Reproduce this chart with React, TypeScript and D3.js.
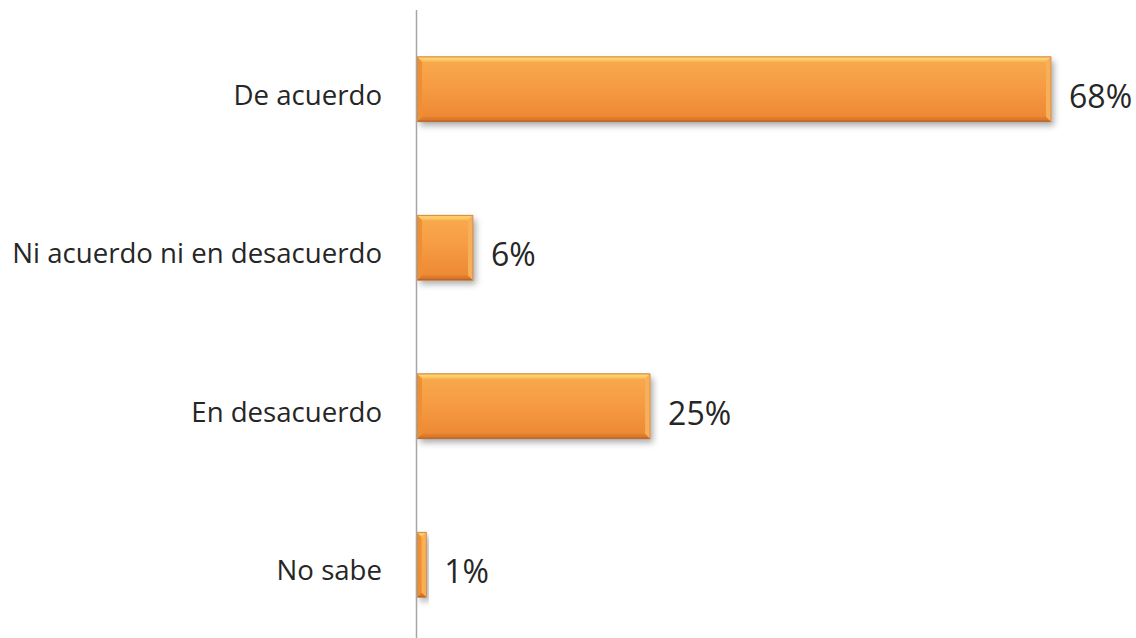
import React from "react";
import * as d3 from "d3";

const categories = ["De acuerdo", "Ni acuerdo ni en desacuerdo", "En desacuerdo", "No sabe"];
const values = [0.68, 0.06, 0.25, 0.01];
const valueLabels = ["68%", "6%", "25%", "1%"];

const W = 1136;
const H = 638;
const axisX = 416.5;
const FONT = "'Open Sans', Lato, sans-serif";

export default function App() {
  const y = d3
    .scaleBand<string>()
    .domain(categories)
    .range([10, 644])
    .paddingInner(0.59)
    .paddingOuter(0.295);
  const x = d3.scaleLinear().domain([0, 1]).range([417, 417 + 932.4]);
  const b = 5;

  return (
    <svg width={W} height={H} style={{ position: "absolute", left: 0, top: 0, background: "#fff" }}>
      <defs>
        <linearGradient id="mainG" x1="0" y1="0" x2="0" y2="1">
          <stop offset="0" stopColor="#f8aa50" />
          <stop offset="0.45" stopColor="#f69c44" />
          <stop offset="1" stopColor="#ec8632" />
        </linearGradient>
        <linearGradient id="topG" x1="0" y1="0" x2="0" y2="1">
          <stop offset="0" stopColor="#f0a048" />
          <stop offset="0.3" stopColor="#fdd66c" />
          <stop offset="1" stopColor="#f9b858" />
        </linearGradient>
        <linearGradient id="botG" x1="0" y1="0" x2="0" y2="1">
          <stop offset="0" stopColor="#e5802e" />
          <stop offset="0.6" stopColor="#da772a" />
          <stop offset="1" stopColor="#a55c2c" />
        </linearGradient>
        <filter id="shadow" x="-20%" y="-20%" width="140%" height="160%">
          <feDropShadow dx="3" dy="4" stdDeviation="3" floodColor="#000" floodOpacity="0.32" />
        </filter>
      </defs>
      {categories.map((c, i) => {
        const y0 = y(c)!;
        const h = y.bandwidth();
        const x0 = x(0);
        const x1 = x(values[i]);
        const w = x1 - x0;
        const bb = Math.min(b, w / 2);
        const cy = y0 + h / 2;
        return (
          <g key={c}>
            <g filter="url(#shadow)">
              <rect x={x0} y={y0} width={w} height={h} fill="url(#mainG)" />
            </g>
            <polygon
              points={`${x0},${y0} ${x1},${y0} ${x1 - bb},${y0 + b} ${x0 + bb},${y0 + b}`}
              fill="url(#topG)"
            />
            <polygon
              points={`${x0},${y0 + h} ${x1},${y0 + h} ${x1 - bb},${y0 + h - b} ${x0 + bb},${y0 + h - b}`}
              fill="url(#botG)"
            />
            <polygon
              points={`${x0},${y0} ${x0 + bb},${y0 + b} ${x0 + bb},${y0 + h - b} ${x0},${y0 + h}`}
              fill="#ee8f34"
            />
            <polygon
              points={`${x1},${y0} ${x1 - bb},${y0 + b} ${x1 - bb},${y0 + h - b} ${x1},${y0 + h}`}
              fill="#f8b058"
            />
            <rect x={x0} y={y0} width={w} height={h} fill="none" stroke="#c46c2d" strokeWidth={0.8} strokeOpacity={0.7} />
            <text
              x={382}
              y={cy + 15.5}
              textAnchor="end"
              fontFamily={FONT}
              fontSize={27.6}
              fill="#262626"
            >
              {c}
            </text>
            <text x={x1 + 18} y={cy + 18.5} fontFamily={FONT} fontSize={32} fill="#262626">
              {valueLabels[i]}
            </text>
          </g>
        );
      })}
      <line x1={axisX} x2={axisX} y1={10} y2={H} stroke="#a6a6a6" strokeWidth={1.5} />
    </svg>
  );
}
